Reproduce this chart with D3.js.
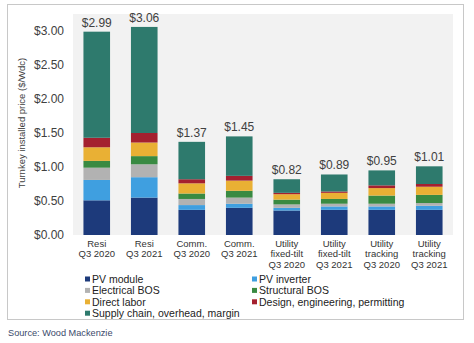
<!DOCTYPE html>
<html>
<head>
<meta charset="utf-8">
<script src="https://cdn.jsdelivr.net/npm/d3@7"></script>
<style>
  body { margin: 0; background: #fff; }
  svg { display: block; font-family: "Liberation Sans", Arial, sans-serif; }
</style>
</head>
<body>
<div id="chart"></div>
<script>
var categories = [
  ["Resi", "Q3 2020"], ["Resi", "Q3 2021"],
  ["Comm.", "Q3 2020"], ["Comm.", "Q3 2021"],
  ["Utility", "fixed-tilt", "Q3 2020"], ["Utility", "fixed-tilt", "Q3 2021"],
  ["Utility", "tracking", "Q3 2020"], ["Utility", "tracking", "Q3 2021"]
];
var components = ["PV module", "PV inverter", "Electrical BOS", "Structural BOS",
  "Direct labor", "Design, engineering, permitting", "Supply chain, overhead, margin"];
var colors = ["#1d3a7b", "#3f9fe0", "#b2b2b2", "#398a42", "#e9b034", "#a4202f", "#2e7a6d"];

var pvModule    = [0.51, 0.55, 0.37, 0.40, 0.36, 0.37, 0.37, 0.37];
var pvInverter  = [0.30, 0.30, 0.07, 0.06, 0.04, 0.05, 0.05, 0.06];
var electrical  = [0.18, 0.19, 0.09, 0.09, 0.05, 0.04, 0.04, 0.04];
var structural  = [0.10, 0.12, 0.08, 0.10, 0.07, 0.07, 0.12, 0.12];
var labor       = [0.20, 0.20, 0.15, 0.15, 0.08, 0.09, 0.11, 0.12];
var design      = [0.14, 0.14, 0.06, 0.07, 0.02, 0.02, 0.04, 0.04];
var supplyChain = [1.56, 1.56, 0.55, 0.58, 0.20, 0.25, 0.22, 0.26];
var totals      = [2.99, 3.06, 1.37, 1.45, 0.82, 0.89, 0.95, 1.01];
var yTicks = [0, 0.5, 1, 1.5, 2, 2.5, 3];

var series = [pvModule, pvInverter, electrical, structural, labor, design, supplyChain];
var rows = categories.map(function(c, i) {
  var r = { key: i };
  components.forEach(function(name, j) { r[name] = series[j][i]; });
  return r;
});

var W = 474, H = 343;
var svg = d3.select("#chart").append("svg").attr("width", W).attr("height", H);

// outer frame
svg.append("rect")
  .attr("x", 7.5).attr("y", 4.5).attr("width", 456).attr("height", 315)
  .attr("fill", "#fff").attr("stroke", "#c8c8c8");

var plot = { left: 73, right: 453, top: 14, bottom: 235 };

svg.append("rect")
  .attr("x", plot.left).attr("y", plot.top)
  .attr("width", plot.right - plot.left).attr("height", plot.bottom - plot.top)
  .attr("fill", "#f2f2f2");

var x = d3.scaleBand()
  .domain(d3.range(categories.length))
  .range([plot.left, plot.right])
  .paddingInner(0.44).paddingOuter(0.22);

var y = d3.scaleLinear().domain([0, 3]).range([plot.bottom, 31]);

var stack = d3.stack().keys(components)(rows);

svg.append("g").selectAll("g")
  .data(stack)
  .join("g")
    .attr("fill", function(d, i) { return colors[i]; })
  .selectAll("rect")
  .data(function(d) { return d; })
  .join("rect")
    .attr("x", function(d) { return x(d.data.key); })
    .attr("width", x.bandwidth())
    .attr("y", function(d) { return y(d[1]); })
    .attr("height", function(d) { return y(d[0]) - y(d[1]); });

// totals
svg.append("g").selectAll("text")
  .data(totals)
  .join("text")
    .attr("x", function(d, i) { return x(i) + x.bandwidth() / 2; })
    .attr("y", function(d) { return y(d) - 5; })
    .attr("text-anchor", "middle")
    .attr("font-size", 12)
    .attr("fill", "#404040")
    .text(function(d) { return "$" + d.toFixed(2); });

// y axis
var yAxis = svg.append("g")
  .attr("transform", "translate(" + 64 + ",0)")
  .call(d3.axisLeft(y).tickValues(yTicks).tickSize(0).tickPadding(0)
    .tickFormat(function(d) { return "$" + d.toFixed(2); }));
yAxis.select(".domain").remove();
yAxis.selectAll("text").attr("font-size", 12).attr("fill", "#404040")
  .attr("font-family", "Liberation Sans, Arial, sans-serif");

svg.append("text")
  .attr("transform", "translate(25," + 123 + ") rotate(-90)")
  .attr("text-anchor", "middle")
  .attr("font-size", 9.5)
  .attr("fill", "#404040")
  .text("Turnkey installed price ($/Wdc)");

// category labels
var cat = svg.append("g").selectAll("text")
  .data(categories)
  .join("text")
    .attr("text-anchor", "middle")
    .attr("font-size", 9.5)
    .attr("fill", "#333");
cat.selectAll("tspan")
  .data(function(d, i) { return d.map(function(s) { return { s: s, i: i }; }); })
  .join("tspan")
    .attr("x", function(d) { return x(d.i) + x.bandwidth() / 2; })
    .attr("y", function(d, k) { return 247 + k * 10.4; })
    .text(function(d) { return d.s; });

// legend
var legend = svg.append("g").selectAll("g")
  .data(components)
  .join("g")
    .attr("transform", function(d, i) {
      return "translate(" + (i % 2 ? 252 : 85) + "," + (279 + Math.floor(i / 2) * 11.4) + ")";
    });
legend.append("rect")
  .attr("x", 0).attr("y", -2.5).attr("width", 5).attr("height", 5)
  .attr("fill", function(d, i) { return colors[i]; });
legend.append("text")
  .attr("x", 7).attr("y", 3.8)
  .attr("font-size", 10.5)
  .attr("fill", "#222")
  .text(function(d) { return d; });

svg.append("text")
  .attr("x", 8).attr("y", 336)
  .attr("font-size", 9.2)
  .attr("fill", "#3b4a6b")
  .text("Source: Wood Mackenzie");
</script>
</body>
</html>
